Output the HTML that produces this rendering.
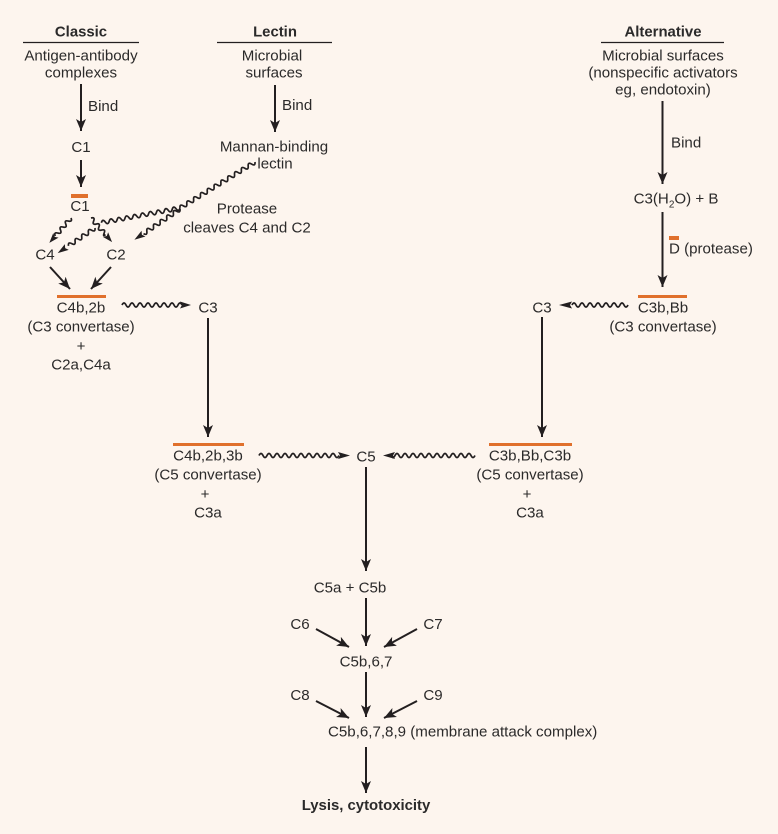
<!DOCTYPE html>
<html><head><meta charset="utf-8"><style>
html,body{margin:0;padding:0;background:#fdf5ee}
svg{display:block}
text{font-family:"Liberation Sans",Arial,sans-serif;font-size:15.1px;fill:#2b2a2a}
.c{text-anchor:middle}
.b{font-weight:bold;font-size:14.9px}
.l{stroke:#231f20;stroke-width:2;fill:none}
.w{stroke:#231f20;stroke-width:1.7;fill:none}
.o{fill:#e0702c}
.r{stroke:#231f20;stroke-width:1.2}
.h{fill:#231f20}
</style></head><body>
<svg width="778" height="834" viewBox="0 0 778 834" xmlns="http://www.w3.org/2000/svg">
<defs>
<marker id="a" markerUnits="userSpaceOnUse" markerWidth="14" markerHeight="12" refX="12" refY="5" orient="auto"><path d="M0 0L12 5L0 10L3 5z" fill="#231f20"/></marker>
</defs>
<rect width="778" height="834" fill="#fdf5ee"/>

<!-- header rules -->
<line class="r" x1="23" y1="42.5" x2="139" y2="42.5"/>
<line class="r" x1="217" y1="42.5" x2="332" y2="42.5"/>
<line class="r" x1="601" y1="42.5" x2="724" y2="42.5"/>

<!-- orange bars -->
<rect class="o" x="71" y="194" width="17" height="4"/>
<rect class="o" x="57" y="295" width="49" height="3"/>
<rect class="o" x="638" y="295" width="49" height="3"/>
<rect class="o" x="669" y="236" width="10" height="4"/>
<rect class="o" x="173" y="443" width="71" height="3"/>
<rect class="o" x="489" y="443" width="83" height="3"/>

<!-- straight arrows -->
<g class="l">
<line x1="81" y1="84" x2="81" y2="131" marker-end="url(#a)"/>
<line x1="81" y1="160" x2="81" y2="187" marker-end="url(#a)"/>
<line x1="275" y1="85" x2="275" y2="132" marker-end="url(#a)"/>
<line x1="662.5" y1="101" x2="662.5" y2="184" marker-end="url(#a)"/>
<line x1="662.5" y1="212" x2="662.5" y2="287" marker-end="url(#a)"/>
<line x1="50" y1="267" x2="70" y2="289" marker-end="url(#a)"/>
<line x1="111" y1="267" x2="91" y2="289" marker-end="url(#a)"/>
<line x1="208" y1="318" x2="208" y2="437" marker-end="url(#a)"/>
<line x1="542" y1="317" x2="542" y2="437" marker-end="url(#a)"/>
<line x1="366" y1="467" x2="366" y2="571" marker-end="url(#a)"/>
<line x1="366" y1="598" x2="366" y2="646" marker-end="url(#a)"/>
<line x1="366" y1="672" x2="366" y2="717" marker-end="url(#a)"/>
<line x1="366" y1="747" x2="366" y2="793" marker-end="url(#a)"/>
<line x1="316" y1="629" x2="349" y2="647" marker-end="url(#a)"/>
<line x1="417" y1="629" x2="384" y2="647" marker-end="url(#a)"/>
<line x1="316" y1="701" x2="349" y2="718" marker-end="url(#a)"/>
<line x1="417" y1="701" x2="384" y2="718" marker-end="url(#a)"/>
</g>

<!-- wavy arrows -->
<g class="w">
<g transform="translate(122,305)"><path d="M0 0q2-4 4 0t4 0t4 0t4 0t4 0t4 0t4 0t4 0t4 0t4 0t4 0t4 0t4 0t4 0t4 0"/><path class="h" stroke="none" d="M58 -3.5L69 0L58 3.5L60 0z"/></g>
<g transform="translate(628,305) rotate(180)"><path d="M0 0q2-4 4 0t4 0t4 0t4 0t4 0t4 0t4 0t4 0t4 0t4 0t4 0t4 0t4 0t4 0"/><path class="h" stroke="none" d="M56 -3.5L69 0L56 3.5L58 0z"/></g>
<g transform="translate(259,455.5)"><path d="M0 0q2-4 4 0t4 0t4 0t4 0t4 0t4 0t4 0t4 0t4 0t4 0t4 0t4 0t4 0t4 0t4 0t4 0t4 0t4 0t4 0t4 0"/><path class="h" stroke="none" d="M79 -3.5L91 0L79 3.5L81 0z"/></g>
<g transform="translate(475,455.5) rotate(180)"><path d="M0 0q2-4 4 0t4 0t4 0t4 0t4 0t4 0t4 0t4 0t4 0t4 0t4 0t4 0t4 0t4 0t4 0t4 0t4 0t4 0t4 0t4 0t4 0"/><path class="h" stroke="none" d="M80 -3.5L92 0L80 3.5L82 0z"/></g>
<!-- lectin main -->
<g transform="translate(255,162) rotate(148.5)"><path d="M0 0q2-4 4 0t4 0t4 0t4 0t4 0t4 0t4 0t4 0t4 0t4 0t4 0t4 0t4 0t4 0t4 0t4 0t4 0t4 0t4 0t4 0t4 0t4 0"/></g>
<g transform="translate(180,208) rotate(169.4)"><path d="M0 0q2-4 4 0t4 0t4 0t4 0t4 0t4 0t4 0t4 0t4 0t4 0t4 0t4 0t4 0t4 0t4 0t4 0t4 0t4 0t4 0t4 0"/></g>
<!-- branch to C2 from lectin -->
<g transform="translate(180,209) rotate(146)"><path d="M0 0q2-4 4 0t4 0t4 0t4 0t4 0t4 0t4 0t4 0t4 0t4 0t4 0"/><path class="h" stroke="none" d="M44 -3.5L55 0L44 3.5L46 0z"/></g>
<!-- fork -->
<g transform="translate(91,218) rotate(48.8)"><path d="M0 0q2-4 4 0t4 0t4 0t4 0t4 0t2 0"/><path class="h" stroke="none" d="M22 -3.5L32 0L22 3.5L24 0z"/></g>
<g transform="translate(95,228) rotate(146)"><path d="M0 0q2-4 4 0t4 0t4 0t4 0t4 0t4 0t4 0t4 0"/><path class="h" stroke="none" d="M34 -3.5L45 0L34 3.5L36 0z"/></g>
<g transform="translate(71,218) rotate(131)"><path d="M0 0q2-4 4 0t4 0t4 0t4 0t4 0t4 0"/><path class="h" stroke="none" d="M23 -3.5L33 0L23 3.5L25 0z"/></g>
</g>

<!-- text -->
<text class="c b" x="81" y="36.5">Classic</text>
<text class="c b" x="275" y="36.5">Lectin</text>
<text class="c b" x="663" y="36.5">Alternative</text>
<text class="c" x="81" y="60.7">Antigen-antibody</text>
<text class="c" x="81" y="77.7">complexes</text>
<text class="c" x="272" y="60.7">Microbial</text>
<text class="c" x="274" y="77.7">surfaces</text>
<text class="c" x="663" y="60.7">Microbial surfaces</text>
<text class="c" x="663" y="77.7">(nonspecific activators</text>
<text class="c" x="663" y="94.7">eg, endotoxin)</text>
<text x="88" y="111">Bind</text>
<text x="282" y="110">Bind</text>
<text x="671" y="147.5">Bind</text>
<text class="c" x="81" y="152">C1</text>
<text class="c" x="274" y="151.5">Mannan-binding</text>
<text class="c" x="275" y="168.5">lectin</text>
<text class="c" x="80" y="211">C1</text>
<text class="c" x="247" y="213.5">Protease</text>
<text class="c" x="247" y="232.5">cleaves C4 and C2</text>
<text class="c" x="45" y="259.5">C4</text>
<text class="c" x="116" y="259.5">C2</text>
<text class="c" x="81" y="312.5">C4b,2b</text>
<text class="c" x="81" y="331.5">(C3 convertase)</text>
<text class="c" x="81" y="351">+</text>
<text class="c" x="81" y="369.5">C2a,C4a</text>
<text class="c" x="208" y="312.5">C3</text>
<text class="c" x="542" y="312.5">C3</text>
<text class="c" x="676" y="203.5">C3(H<tspan font-size="10" dy="4">2</tspan><tspan dy="-4">O) + B</tspan></text>
<text x="669" y="253.5">D (protease)</text>
<text class="c" x="663" y="312.5">C3b,Bb</text>
<text class="c" x="663" y="331.5">(C3 convertase)</text>
<text class="c" x="208" y="460.5">C4b,2b,3b</text>
<text class="c" x="208" y="479.5">(C5 convertase)</text>
<text class="c" x="205" y="499">+</text>
<text class="c" x="208" y="517.5">C3a</text>
<text class="c" x="366" y="461.5">C5</text>
<text class="c" x="530" y="460.5">C3b,Bb,C3b</text>
<text class="c" x="530" y="479.5">(C5 convertase)</text>
<text class="c" x="527" y="499">+</text>
<text class="c" x="530" y="517.5">C3a</text>
<text class="c" x="350" y="592.7">C5a + C5b</text>
<text class="c" x="300" y="629">C6</text>
<text class="c" x="433" y="629">C7</text>
<text class="c" x="366" y="666.5">C5b,6,7</text>
<text class="c" x="300" y="700">C8</text>
<text class="c" x="433" y="700">C9</text>
<text x="328" y="736.7">C5b,6,7,8,9 (membrane attack complex)</text>
<text class="c b" x="366" y="810">Lysis, cytotoxicity</text>
</svg>
</body></html>
